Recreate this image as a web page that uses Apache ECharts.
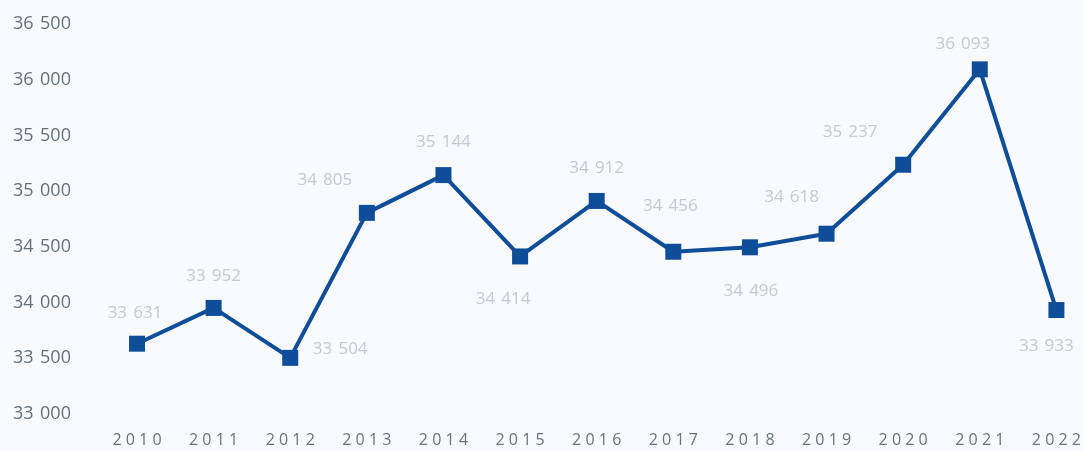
<!DOCTYPE html>
<html>
<head>
<meta charset="utf-8">
<script src="https://cdn.jsdelivr.net/npm/echarts@6/dist/echarts.min.js"></script>
<style>
html,body{margin:0;padding:0;background:#f8fafd;}
#c{width:1084px;height:451px;}
</style>
</head>
<body>
<div id="c"></div>
<script>
var years = ['2010','2011','2012','2013','2014','2015','2016','2017','2018','2019','2020','2021','2022'];
var values = [33631, 33952, 33504, 34805, 35144, 34414, 34912, 34456, 34496, 34618, 35237, 36093, 33933];
var yTicks = [33000, 33500, 34000, 34500, 35000, 35500, 36000, 36500];

// label placement (style only): offset of label centre from point
var labelOffsets = [[-2,-31],[0,-32],[50,-9],[-42,-33],[0,-33],[-17,43],[0,-33],[-3,-46],[1,44],[-35,-37],[-53,-33],[-17,-25],[-10,36]];

function fmt(v){ return String(v).replace(/\B(?=(\d{3})+(?!\d))/g, ' \u200A'); }

var chart = echarts.init(document.getElementById('c'), null, {renderer:'canvas'});
chart.setOption({
  backgroundColor: '#f8fafd',
  animation: false,
  grid: {left: 137, right: 21, top: 24, bottom: 37},
  xAxis: {
    type: 'category',
    data: years,
    boundaryGap: false,
    axisLine: {show: false},
    axisTick: {show: false},
    splitLine: {show: false},
    axisLabel: {
      margin: 18,
      fontSize: 16,
      color: '#6a737a',
      fontFamily: 'Open Sans',
      formatter: function(v){ return v.split('').join('\u2008'); }
    }
  },
  yAxis: {
    type: 'value',
    min: yTicks[0],
    max: yTicks[yTicks.length-1],
    interval: 500,
    axisLine: {show: false},
    axisTick: {show: false},
    splitLine: {show: false},
    axisLabel: {
      align: 'left',
      margin: 124,
      fontSize: 18,
      color: '#66707a',
      fontFamily: 'Open Sans',
      formatter: function(v){ return fmt(v); }
    }
  },
  series: [{
    type: 'line',
    data: values.map(function(v, i){
      return {value: v, label: {offset: labelOffsets[i]}};
    }),
    symbol: 'rect',
    symbolSize: 16,
    lineStyle: {color: '#0e4d98', width: 4},
    itemStyle: {color: '#0e4d98'},
    label: {
      show: true,
      position: 'inside',
      fontSize: 17,
      color: '#c6c9cd',
      fontFamily: 'Open Sans',
      formatter: function(p){ return fmt(p.value); }
    }
  }]
});
</script>
</body>
</html>
